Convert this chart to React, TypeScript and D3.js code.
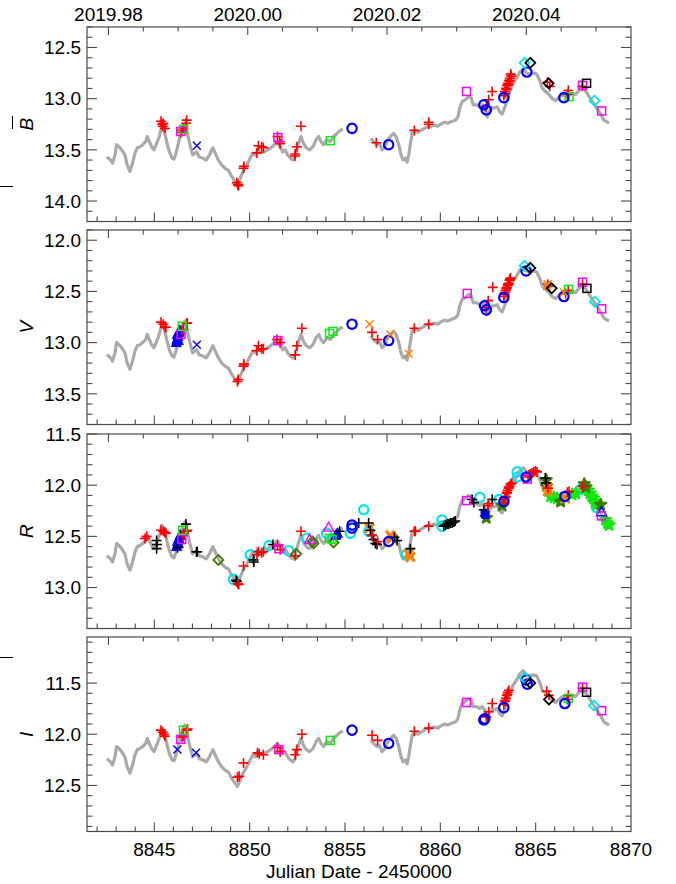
import React from 'react';
import * as d3 from 'd3';

const W = 676, H = 884;
const X0 = 87, X1 = 631;
const jdDomain = [8841.47, 8870];
const panelTops = [27, 230, 434, 637];
const panelH = 194.5;
const bandNames = ['B', 'V', 'R', 'I'];
const yDomains = [[12.3, 14.2], [11.9, 13.8], [11.5, 13.4], [11.05, 12.95]];
const curveOffsets = [0.45, 0, -0.43, -0.88];
const jdMajorTicks = [8845, 8850, 8855, 8860, 8865, 8870];
const yearLabels = ['2019.98', '2020.00', '2020.02', '2020.04'];
const yearZeroJD = 8849.9;

// reference (V-band) gray light curve, two segments
const curveJD1 = [8842.50, 8842.59, 8842.71, 8842.81, 8842.94, 8843.02, 8843.15, 8843.29, 8843.46, 8843.58, 8843.72, 8843.86, 8843.99, 8844.11, 8844.25, 8844.39, 8844.55, 8844.63, 8844.74, 8844.86, 8844.98, 8845.12, 8845.26, 8845.39, 8845.51, 8845.65, 8845.79, 8845.93, 8846.03, 8846.14, 8846.26, 8846.38, 8846.52, 8846.61, 8846.73, 8846.87, 8847.01, 8847.14, 8847.22, 8847.36, 8847.54, 8847.72, 8847.89, 8848.07, 8848.19, 8848.36, 8848.54, 8848.71, 8848.89, 8849.06, 8849.24, 8849.36, 8849.50, 8849.68, 8849.85, 8850.03, 8850.17, 8850.29, 8850.41, 8850.59, 8850.76, 8850.94, 8851.11, 8851.29, 8851.46, 8851.60, 8851.74, 8851.86, 8851.99, 8852.13, 8852.27, 8852.39, 8852.56, 8852.69, 8852.83, 8852.97, 8853.14, 8853.32, 8853.49, 8853.62, 8853.74, 8853.88, 8854.05, 8854.23, 8854.40, 8854.58, 8854.75, 8854.89];
const curveV1 = [13.12, 13.13, 13.15, 13.18, 13.10, 13.00, 13.02, 13.05, 13.10, 13.20, 13.26, 13.18, 13.08, 13.03, 13.02, 13.00, 12.97, 12.92, 12.97, 13.02, 13.05, 12.99, 12.92, 12.82, 12.86, 12.97, 13.07, 13.13, 13.14, 13.08, 12.99, 12.89, 12.82, 12.79, 12.89, 13.00, 13.10, 13.08, 13.07, 13.12, 13.13, 13.15, 13.10, 13.03, 13.08, 13.15, 13.20, 13.23, 13.25, 13.31, 13.36, 13.39, 13.33, 13.25, 13.20, 13.13, 13.08, 13.10, 13.05, 13.08, 13.07, 13.05, 13.03, 13.00, 12.97, 13.02, 13.07, 13.05, 13.10, 13.13, 13.15, 13.12, 12.99, 12.92, 12.99, 13.03, 13.05, 13.02, 12.95, 12.92, 12.97, 13.00, 12.95, 12.97, 12.92, 12.89, 12.86, 12.85];
const curveJD2 = [8856.36, 8856.50, 8856.68, 8856.82, 8856.94, 8857.06, 8857.20, 8857.38, 8857.55, 8857.68, 8857.82, 8857.94, 8858.05, 8858.17, 8858.26, 8858.34, 8858.43, 8858.52, 8858.64, 8858.82, 8858.99, 8859.17, 8859.34, 8859.52, 8859.69, 8859.87, 8860.01, 8860.22, 8860.39, 8860.62, 8860.79, 8860.92, 8861.02, 8861.14, 8861.32, 8861.49, 8861.62, 8861.72, 8861.90, 8862.07, 8862.19, 8862.32, 8862.46, 8862.58, 8862.72, 8862.84, 8862.98, 8863.12, 8863.24, 8863.37, 8863.51, 8863.65, 8863.82, 8864.00, 8864.17, 8864.35, 8864.52, 8864.70, 8864.87, 8865.05, 8865.21, 8865.35, 8865.52, 8865.70, 8865.87, 8866.05, 8866.22, 8866.40, 8866.57, 8866.75, 8866.92, 8867.10, 8867.27, 8867.39, 8867.53, 8867.71, 8867.88, 8868.06, 8868.23, 8868.41, 8868.58, 8868.76, 8868.85];
const curveV2 = [12.94, 12.97, 13.00, 12.99, 13.05, 13.03, 12.97, 12.92, 12.89, 12.92, 13.00, 13.10, 13.15, 13.13, 13.17, 13.10, 12.99, 12.89, 12.86, 12.88, 12.86, 12.84, 12.82, 12.82, 12.81, 12.82, 12.80, 12.78, 12.79, 12.77, 12.76, 12.73, 12.64, 12.58, 12.56, 12.53, 12.54, 12.61, 12.61, 12.63, 12.61, 12.64, 12.73, 12.67, 12.64, 12.64, 12.63, 12.68, 12.70, 12.64, 12.56, 12.48, 12.40, 12.35, 12.29, 12.26, 12.30, 12.31, 12.30, 12.31, 12.37, 12.45, 12.48, 12.51, 12.55, 12.57, 12.54, 12.51, 12.53, 12.51, 12.50, 12.51, 12.47, 12.43, 12.45, 12.50, 12.55, 12.60, 12.65, 12.70, 12.76, 12.78, 12.79];

// ---------- B band ----------
const B_redPlus = [[8845.35, 13.22], [8845.42, 13.25], [8845.44, 13.27], [8845.47, 13.24], [8845.56, 13.29], [8846.40, 13.33], [8846.45, 13.31], [8846.53, 13.29], [8846.66, 13.24], [8846.70, 13.21], [8849.33, 13.82], [8849.38, 13.84], [8849.42, 13.85], [8849.68, 13.68], [8849.70, 13.66], [8850.38, 13.53], [8850.46, 13.46], [8850.63, 13.47], [8850.72, 13.48], [8851.46, 13.37], [8851.57, 13.42], [8851.60, 13.44], [8852.38, 13.56], [8852.39, 13.54], [8852.48, 13.47], [8852.69, 13.27], [8856.64, 13.43], [8858.64, 13.31], [8859.39, 13.23], [8859.39, 13.25], [8862.41, 13.08], [8862.54, 13.01], [8862.72, 12.93], [8863.33, 12.97], [8863.38, 12.93], [8863.40, 12.95], [8863.44, 12.90], [8863.47, 12.91], [8863.49, 12.87], [8863.54, 12.85], [8863.57, 12.86], [8863.60, 12.82], [8863.63, 12.83], [8863.65, 12.80], [8863.70, 12.76], [8863.72, 12.78], [8865.62, 12.84], [8865.74, 12.88], [8866.66, 12.96], [8866.71, 12.92], [8867.44, 12.88]];
const B_blueCircle = [[8855.37, 13.29], [8857.29, 13.45], [8862.28, 13.06], [8862.41, 13.11], [8863.33, 12.99], [8864.54, 12.74], [8866.48, 12.99]];
const B_magentaSquare = [[8846.39, 13.32], [8851.48, 13.38], [8861.37, 12.93], [8867.46, 12.87], [8868.46, 13.12]];
const B_greenSquare = [[8846.53, 13.30], [8854.23, 13.41], [8866.75, 12.98]];
const B_blueX = [[8847.23, 13.46]];
const B_cyanDiamond = [[8864.42, 12.65], [8868.09, 13.02]];
const B_blackDiamond = [[8864.72, 12.65], [8865.68, 12.85]];
const B_blackSquare = [[8867.67, 12.85]];

// ---------- V band ----------
const V_redPlus = [[8845.35, 12.80], [8845.47, 12.82], [8845.56, 12.85], [8845.61, 12.85], [8846.45, 12.88], [8846.53, 12.87], [8846.70, 12.81], [8846.73, 12.81], [8849.36, 13.38], [8849.40, 13.36], [8849.68, 13.23], [8849.70, 13.21], [8850.38, 13.08], [8850.46, 13.03], [8850.63, 13.06], [8850.72, 13.06], [8851.43, 12.97], [8851.60, 13.00], [8852.39, 13.12], [8852.48, 13.03], [8852.74, 12.86], [8856.42, 12.90], [8856.71, 12.97], [8858.64, 12.86], [8859.39, 12.82], [8862.41, 12.66], [8862.51, 12.59], [8862.75, 12.46], [8863.33, 12.55], [8863.36, 12.53], [8863.38, 12.51], [8863.43, 12.49], [8863.46, 12.47], [8863.48, 12.46], [8863.53, 12.44], [8863.56, 12.43], [8863.58, 12.42], [8863.63, 12.39], [8863.66, 12.38], [8863.68, 12.37], [8865.63, 12.43], [8865.70, 12.45], [8866.57, 12.52], [8866.71, 12.49], [8867.46, 12.43]];
const V_blueTriFilled = [[8846.15, 13.00], [8846.19, 12.97], [8846.21, 12.92], [8846.24, 12.94], [8846.26, 12.98], [8846.29, 12.90], [8846.33, 12.88]];
const V_magentaSquare = [[8846.40, 12.92], [8851.48, 12.98], [8861.41, 12.52], [8867.46, 12.41], [8868.46, 12.67]];
const V_greenSquare = [[8846.47, 12.84], [8854.19, 12.91], [8854.37, 12.89], [8866.73, 12.48]];
const V_blueX = [[8847.23, 13.02]];
const V_blueCircle = [[8855.37, 12.82], [8857.29, 12.98], [8862.32, 12.64], [8862.41, 12.68], [8863.33, 12.56], [8864.50, 12.30], [8866.48, 12.55]];
const V_orangeX = [[8856.29, 12.82], [8857.38, 12.92], [8858.34, 13.11], [8865.60, 12.45], [8865.63, 12.43], [8866.48, 12.51]];
const V_cyanDiamond = [[8864.42, 12.25], [8868.11, 12.60]];
const V_blackDiamond = [[8864.72, 12.27], [8865.84, 12.47]];
const V_blackSquare = [[8867.69, 12.47]];

// ---------- R band ----------
const R_redPlus = [[8844.51, 12.52], [8844.60, 12.50], [8845.35, 12.44], [8845.47, 12.45], [8845.56, 12.46], [8845.61, 12.47], [8846.47, 12.49], [8846.56, 12.47], [8846.70, 12.45], [8846.73, 12.44], [8849.38, 12.96], [8849.43, 12.97], [8849.68, 12.79], [8850.38, 12.68], [8850.46, 12.65], [8850.63, 12.66], [8850.72, 12.65], [8851.46, 12.59], [8851.60, 12.63], [8852.39, 12.69], [8852.69, 12.45], [8856.41, 12.49], [8856.71, 12.55], [8858.64, 12.45], [8858.69, 12.45], [8859.39, 12.40], [8862.49, 12.20], [8862.54, 12.18], [8863.33, 12.17], [8863.38, 12.14], [8863.40, 12.12], [8863.43, 12.11], [8863.48, 12.08], [8863.50, 12.07], [8863.53, 12.05], [8863.58, 12.03], [8863.60, 12.02], [8863.63, 12.01], [8863.68, 11.99], [8863.75, 11.98], [8864.60, 11.92], [8864.65, 11.90], [8864.72, 11.89], [8864.81, 11.88], [8864.90, 11.87], [8864.99, 11.86], [8865.07, 11.87], [8865.65, 12.03], [8866.66, 12.07], [8866.75, 12.06], [8867.46, 12.01]];
const R_blackPlus = [[8845.12, 12.54], [8845.14, 12.58], [8845.12, 12.62], [8846.22, 12.61], [8846.66, 12.38], [8847.21, 12.65], [8847.25, 12.65], [8849.29, 12.93], [8849.33, 12.94], [8850.20, 12.73], [8850.22, 12.75], [8851.22, 12.58], [8854.72, 12.45], [8855.72, 12.37], [8856.24, 12.37], [8856.33, 12.44], [8856.41, 12.49], [8856.50, 12.53], [8856.59, 12.57], [8856.68, 12.58], [8857.59, 12.51], [8857.73, 12.54], [8858.43, 12.62], [8860.18, 12.40], [8860.27, 12.39], [8860.36, 12.38], [8860.45, 12.38], [8860.53, 12.37], [8860.62, 12.37], [8860.71, 12.36], [8860.78, 12.35], [8861.67, 12.14], [8861.76, 12.17], [8862.28, 12.24], [8862.72, 12.14], [8865.51, 11.93], [8865.55, 11.98]];
const R_blueTriFilled = [[8846.17, 12.60], [8846.22, 12.55], [8846.26, 12.57], [8846.29, 12.52], [8846.35, 12.49], [8854.52, 12.49], [8854.60, 12.47]];
const R_blueTriOpen = [[8868.45, 12.26]];
const R_magentaSquare = [[8846.44, 12.53], [8851.53, 12.62], [8861.37, 12.15], [8864.56, 11.94], [8868.45, 12.30]];
const R_greenSquare = [[8846.49, 12.44], [8854.19, 12.52], [8854.32, 12.53]];
const R_cyanCircle = [[8849.15, 12.92], [8850.03, 12.68], [8851.02, 12.59], [8852.04, 12.64], [8853.00, 12.52], [8854.03, 12.47], [8855.28, 12.47], [8855.98, 12.24], [8856.24, 12.45], [8858.20, 12.68], [8860.09, 12.34], [8860.09, 12.40], [8862.07, 12.12], [8863.07, 12.14], [8864.03, 11.87], [8864.05, 11.92], [8867.36, 12.04], [8868.20, 12.22]];
const R_magentaTri = [[8853.14, 12.53], [8854.14, 12.41]];
const R_darkGreenDiamond = [[8848.36, 12.73], [8852.44, 12.67], [8853.30, 12.55], [8853.35, 12.57], [8854.40, 12.56]];
const R_blueCircle = [[8855.37, 12.42], [8855.37, 12.39], [8857.29, 12.55], [8863.33, 12.16], [8864.50, 11.92], [8866.53, 12.11]];
const R_orangeFilled = [[8856.29, 12.42], [8857.38, 12.49], [8857.47, 12.52], [8858.34, 12.67], [8858.43, 12.70], [8865.62, 12.02], [8865.64, 12.06], [8866.55, 12.13]];
const R_darkGreenFilled = [[8862.41, 12.32], [8863.24, 12.20], [8865.55, 11.95], [8865.57, 12.01], [8866.31, 12.16], [8867.55, 11.99], [8867.64, 12.02], [8868.41, 12.19]];
const R_limeFilled = [[8865.78, 12.11], [8865.96, 12.12], [8866.13, 12.13], [8866.31, 12.14], [8866.92, 12.09], [8867.10, 12.08], [8867.76, 12.05], [8867.85, 12.08], [8867.94, 12.11], [8868.03, 12.13], [8868.11, 12.16], [8868.20, 12.19], [8868.67, 12.34], [8868.76, 12.37], [8868.85, 12.39]];
const R_blueFilledSquare = [[8862.32, 12.27], [8862.37, 12.29]];

// ---------- I band ----------
const I_redPlus = [[8845.35, 11.96], [8845.44, 11.98], [8845.51, 12.00], [8845.56, 12.02], [8846.45, 12.03], [8846.53, 12.02], [8846.70, 11.96], [8846.75, 11.95], [8849.36, 12.42], [8849.45, 12.41], [8849.68, 12.28], [8850.41, 12.18], [8850.50, 12.19], [8850.72, 12.20], [8851.46, 12.13], [8851.60, 12.17], [8852.39, 12.20], [8852.48, 12.15], [8852.74, 12.00], [8856.42, 12.01], [8856.71, 12.06], [8858.64, 11.97], [8859.39, 11.94], [8862.41, 11.83], [8862.54, 11.78], [8862.72, 11.70], [8863.33, 11.71], [8863.38, 11.68], [8863.41, 11.67], [8863.44, 11.65], [8863.49, 11.62], [8863.52, 11.61], [8863.54, 11.59], [8863.60, 11.57], [8865.58, 11.58], [8865.70, 11.62], [8866.66, 11.66], [8866.71, 11.62], [8867.46, 11.55]];
const I_blueX = [[8846.21, 12.15], [8847.19, 12.18]];
const I_magentaSquare = [[8846.39, 12.05], [8851.53, 12.15], [8861.37, 11.69], [8867.46, 11.54], [8868.46, 11.77]];
const I_greenSquare = [[8846.53, 11.96], [8854.23, 12.06], [8866.71, 11.65]];
const I_blueCircle = [[8855.37, 11.96], [8857.29, 12.09], [8862.28, 11.86], [8862.33, 11.85], [8863.33, 11.74], [8864.50, 11.47], [8864.56, 11.51], [8866.53, 11.70]];
const I_cyanDiamond = [[8864.42, 11.45], [8868.06, 11.72]];
const I_blackDiamond = [[8864.72, 11.50], [8865.70, 11.66]];
const I_blackSquare = [[8867.67, 11.59]];

const RED = '#ff0000', BLUE = '#0000ff', MAG = '#ff00ff', LIME = '#11e811', CYAN = '#00e5ee', BLACK = '#000000', ORANGE = '#ff8000', DKGREEN = '#3c7d00';

type Series = { sym: string; color: string; pts: number[][] };

const panelSeries: Series[][] = [
  [
    { sym: 'plus', color: RED, pts: B_redPlus },
    { sym: 'square', color: MAG, pts: B_magentaSquare },
    { sym: 'square', color: LIME, pts: B_greenSquare },
    { sym: 'x', color: BLUE, pts: B_blueX },
    { sym: 'circle', color: BLUE, pts: B_blueCircle },
    { sym: 'diamond', color: CYAN, pts: B_cyanDiamond },
    { sym: 'diamond', color: BLACK, pts: B_blackDiamond },
    { sym: 'square', color: BLACK, pts: B_blackSquare },
  ],
  [
    { sym: 'triFilled', color: BLUE, pts: V_blueTriFilled },
    { sym: 'plus', color: RED, pts: V_redPlus },
    { sym: 'square', color: MAG, pts: V_magentaSquare },
    { sym: 'square', color: LIME, pts: V_greenSquare },
    { sym: 'x', color: BLUE, pts: V_blueX },
    { sym: 'circle', color: BLUE, pts: V_blueCircle },
    { sym: 'x', color: ORANGE, pts: V_orangeX },
    { sym: 'diamond', color: CYAN, pts: V_cyanDiamond },
    { sym: 'diamond', color: BLACK, pts: V_blackDiamond },
    { sym: 'square', color: BLACK, pts: V_blackSquare },
  ],
  [
    { sym: 'circle', color: CYAN, pts: R_cyanCircle },
    { sym: 'diamond', color: DKGREEN, pts: R_darkGreenDiamond },
    { sym: 'blob', color: LIME, pts: R_limeFilled },
    { sym: 'blob', color: DKGREEN, pts: R_darkGreenFilled },
    { sym: 'xFilled', color: ORANGE, pts: R_orangeFilled },
    { sym: 'triFilled', color: BLUE, pts: R_blueTriFilled },
    { sym: 'tri', color: BLUE, pts: R_blueTriOpen },
    { sym: 'tri', color: MAG, pts: R_magentaTri },
    { sym: 'squareFilled', color: BLUE, pts: R_blueFilledSquare },
    { sym: 'plus', color: BLACK, pts: R_blackPlus },
    { sym: 'plus', color: RED, pts: R_redPlus },
    { sym: 'square', color: MAG, pts: R_magentaSquare },
    { sym: 'square', color: LIME, pts: R_greenSquare },
    { sym: 'circle', color: BLUE, pts: R_blueCircle },
  ],
  [
    { sym: 'plus', color: RED, pts: I_redPlus },
    { sym: 'square', color: MAG, pts: I_magentaSquare },
    { sym: 'square', color: LIME, pts: I_greenSquare },
    { sym: 'x', color: BLUE, pts: I_blueX },
    { sym: 'circle', color: BLUE, pts: I_blueCircle },
    { sym: 'diamond', color: CYAN, pts: I_cyanDiamond },
    { sym: 'diamond', color: BLACK, pts: I_blackDiamond },
    { sym: 'square', color: BLACK, pts: I_blackSquare },
  ],
];

const blobPath = d3.symbol(d3.symbolStar, 38)() || '';

function Sym({ sym, color, x, y }: { sym: string; color: string; x: number; y: number }) {
  const t = `translate(${x},${y})`;
  switch (sym) {
    case 'plus':
      return <path transform={t} d="M-5,0H5M0,-5V5" stroke={color} strokeWidth={1.6} fill="none" />;
    case 'x':
      return <path transform={t} d="M-4,-4L4,4M-4,4L4,-4" stroke={color} strokeWidth={1.4} fill="none" />;
    case 'xFilled':
      return <path transform={t} d="M-4.5,-4.5L4.5,4.5M-4.5,4.5L4.5,-4.5" stroke={color} strokeWidth={3} fill="none" />;
    case 'circle':
      return <circle transform={t} r={4.7} stroke={color} strokeWidth={2.2} fill="none" />;
    case 'square':
      return <rect transform={t} x={-4} y={-4} width={8} height={8} stroke={color} strokeWidth={1.5} fill="none" />;
    case 'squareFilled':
      return <rect transform={t} x={-4} y={-4} width={8} height={8} fill={color} />;
    case 'diamond':
      return <path transform={t} d="M0,-5L5,0L0,5L-5,0Z" stroke={color} strokeWidth={1.8} fill="none" />;
    case 'tri':
      return <path transform={t} d="M0,-5L5,4L-5,4Z" stroke={color} strokeWidth={1.4} fill="none" />;
    case 'triFilled':
      return <path transform={t} d="M0,-5.5L5,4L-5,4Z" fill={color} stroke={color} strokeWidth={1} />;
    case 'blob':
      return <path transform={t} d={blobPath} fill={color} stroke={color} strokeWidth={2.2} strokeLinejoin="round" />;
    default:
      return null;
  }
}

const FONT = '"Liberation Sans", Arial, Helvetica, sans-serif';
const AX = '#4a4a4a';

export default function App() {
  const x = d3.scaleLinear().domain(jdDomain).range([X0, X1]);
  const jdToYear = (yr: number) => yearZeroJD + (yr - 2020) * 365.25;
  const yearTicks = d3.range(0, 16).map((i) => 2019.98 + i * 0.005)
    .map((yr, i) => ({ xp: x(jdToYear(yr)), major: i % 4 === 0 }))
    .filter((t) => t.xp > X0 + 0.5 && t.xp < X1 - 0.5);
  const jdMinor = d3.range(8842, 8870);

  return (
    <svg width={W} height={H} style={{ position: 'absolute', left: 0, top: 0, background: '#fff' }} fontFamily={FONT}>
      <rect width={W} height={H} fill="#fff" />
      {/* stray marks on the left */}
      <line x1={12.5} x2={12.5} y1={116} y2={129} stroke="#000" strokeWidth={1} />
      <line x1={0} x2={13} y1={186.5} y2={186.5} stroke="#000" strokeWidth={1} />
      <line x1={0} x2={13} y1={657.5} y2={657.5} stroke="#000" strokeWidth={1} />

      {bandNames.map((band, pi) => {
        const top = panelTops[pi];
        const [lo, hi] = yDomains[pi];
        const y = d3.scaleLinear().domain([lo, hi]).range([top, top + panelH]);
        const off = curveOffsets[pi];
        const seg = (jds: number[], mags: number[]) =>
          d3.line<number>().x((d) => x(d)).y((_, i) => y(mags[i] + off)).curve(d3.curveLinear)(jds) || '';
        const yt = d3.range(Math.ceil(lo * 10 - 1e-6), Math.floor(hi * 10 + 1e-6) + 1).map((v) => v / 10);
        const clipId = `clip${pi}`;
        return (
          <g key={band}>
            <defs>
              <clipPath id={clipId}>
                <rect x={X0} y={top} width={X1 - X0} height={panelH} />
              </clipPath>
            </defs>
            <g clipPath={`url(#${clipId})`}>
              <path d={seg(curveJD1, curveV1)} stroke="#aaaaaa" strokeWidth={3.2} fill="none" strokeLinejoin="round" />
              <path d={seg(curveJD2, curveV2)} stroke="#aaaaaa" strokeWidth={3.2} fill="none" strokeLinejoin="round" />
              {panelSeries[pi].map((s, si) => (
                <g key={si}>
                  {s.pts.map((p, k) => (
                    <Sym key={k} sym={s.sym} color={s.color} x={x(p[0])} y={y(p[1])} />
                  ))}
                </g>
              ))}
            </g>
            {/* frame */}
            <rect x={X0} y={top} width={X1 - X0} height={panelH} fill="none" stroke={AX} strokeWidth={1.2} />
            {/* y ticks */}
            {yt.map((v) => {
              const major = Math.abs(v * 2 - Math.round(v * 2)) < 1e-6;
              const len = major ? 10 : 5.5;
              const yy = y(v);
              return (
                <g key={v}>
                  <line x1={X0} x2={X0 + len} y1={yy} y2={yy} stroke={AX} strokeWidth={1.1} />
                  <line x1={X1} x2={X1 - len} y1={yy} y2={yy} stroke={AX} strokeWidth={1.1} />
                  {major && (
                    <text x={X0 - 6} y={yy} dy="0.36em" textAnchor="end" fontSize={19}>{v.toFixed(1)}</text>
                  )}
                </g>
              );
            })}
            {/* bottom JD ticks */}
            {jdMinor.map((d) => {
              const major = jdMajorTicks.includes(d);
              const len = major ? 9 : 5;
              return <line key={d} x1={x(d)} x2={x(d)} y1={top + panelH} y2={top + panelH - len} stroke={AX} strokeWidth={1.1} />;
            })}
            {/* top year ticks */}
            {yearTicks.map((t, k) => (
              <line key={k} x1={t.xp} x2={t.xp} y1={top} y2={top + (t.major ? 8 : 4.5)} stroke={AX} strokeWidth={1.1} />
            ))}
            <text transform={`translate(${33},${top + panelH / 2}) rotate(-90)`} textAnchor="middle" fontSize={19} fontStyle="italic">{band}</text>
          </g>
        );
      })}

      {/* top year labels */}
      {yearLabels.map((lab) => (
        <text key={lab} x={x(jdToYear(+lab))} y={20.5} textAnchor="middle" fontSize={19}>{lab}</text>
      ))}
      {/* bottom JD labels */}
      {jdMajorTicks.map((d) => (
        <text key={d} x={x(d)} y={856} textAnchor="middle" fontSize={19}>{d}</text>
      ))}
      <text x={(X0 + X1) / 2} y={878} textAnchor="middle" fontSize={19}>Julian Date - 2450000</text>
    </svg>
  );
}
